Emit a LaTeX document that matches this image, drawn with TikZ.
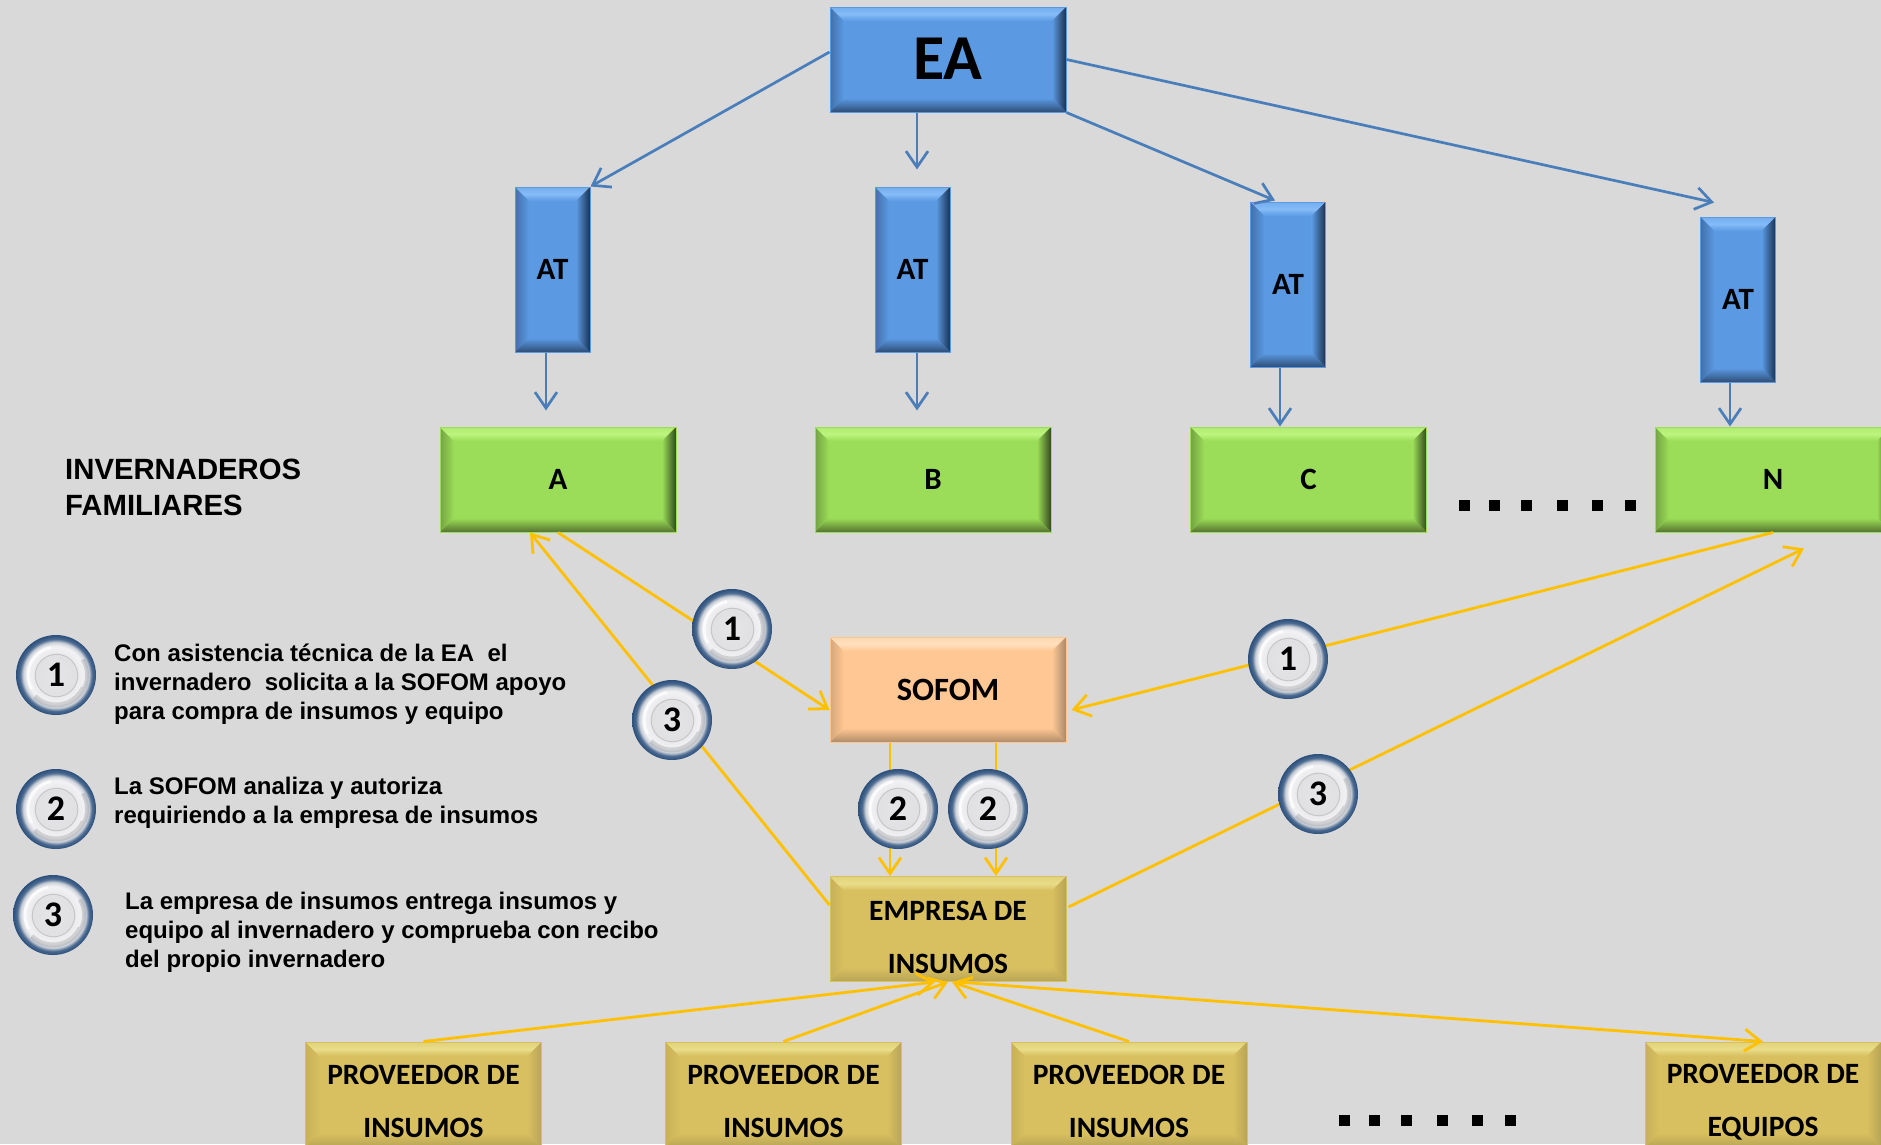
\documentclass[tikz,border=0pt]{standalone}
\usepackage{fontspec}
\setmainfont{Carlito}
\newfontfamily\legendfont{Liberation Sans}
\usetikzlibrary{arrows.meta}
\definecolor{pagebg}{HTML}{D9D9D9}
\definecolor{bluelink}{HTML}{4A7EBB}
\definecolor{yellink}{HTML}{FFC000}
\pgfdeclareradialshading{badgeshade}{\pgfpointorigin}{
 rgb(0bp)=(.90,.90,.91); rgb(12.75bp)=(.88,.88,.89); rgb(13.25bp)=(.76,.76,.77); rgb(13.75bp)=(.92,.92,.93);
 rgb(18bp)=(.95,.95,.96); rgb(20.5bp)=(.80,.82,.85); rgb(22.5bp)=(.30,.42,.57); rgb(25bp)=(.17,.31,.48); rgb(50bp)=(.17,.31,.48)}
\tikzset{
 bevelbox/.style n args={4}{draw=#1,line width=1pt,
  fill=#1,font=\bfseries,text=black,inner sep=0pt,align=center,
  path picture={
   \coordinate (sw) at (path picture bounding box.south west);
   \coordinate (ne) at (path picture bounding box.north east);
   \coordinate (nw) at (path picture bounding box.north west);
   \coordinate (se) at (path picture bounding box.south east);
   \shade[left color=#4!55!#1,right color=#1] (sw) -- (nw) -- ([xshift=14pt,yshift=-14pt]nw) -- ([xshift=14pt,yshift=14pt]sw) -- cycle;
   \shade[top color=#2!60!#1,bottom color=#1,middle color=#2] (nw) -- (ne) -- ([xshift=-14pt,yshift=-14pt]ne) -- ([xshift=14pt,yshift=-14pt]nw) -- cycle;
   \shade[left color=#1,right color=#3] (se) -- (ne) -- ([xshift=-14pt,yshift=-14pt]ne) -- ([xshift=-14pt,yshift=14pt]se) -- cycle;
   \shade[bottom color=#4,top color=#1] (sw) -- (se) -- ([xshift=-14pt,yshift=14pt]se) -- ([xshift=14pt,yshift=14pt]sw) -- cycle;
  }},
 widebox/.style={minimum width=236pt,minimum height=105pt},
 tallbox/.style={minimum width=75pt,minimum height=165pt},
 bluebox/.style={bevelbox={HBlue}{HBlueL}{HBlueD}{HBlueB}},
 greenbox/.style={bevelbox={HGreen}{HGreenL}{HGreenD}{HGreenB},widebox,font=\fontsize{31}{36}\selectfont\bfseries},
 orangebox/.style={bevelbox={HOrange}{HOrangeL}{HOrangeD}{HOrangeB},widebox,font=\fontsize{32.5}{36}\selectfont\bfseries},
 goldbox/.style={bevelbox={HGold}{HGoldL}{HGoldD}{HGoldB},widebox,font=\fontsize{29.5}{53}\selectfont\bfseries},
 bluelink/.style={draw=bluelink,line width=2.7pt,-{Straight Barb[length=16pt,width=22pt,line width=2.7pt]}},
 yellink/.style={draw=yellink,line width=2.8pt,-{Straight Barb[length=16pt,width=22pt,line width=2.8pt]}},
 badge/.style={circle,minimum size=80pt,inner sep=0pt,shade,shading=badgeshade,
  font=\fontsize{36}{36}\selectfont\bfseries,
  path picture={
   \draw[white,opacity=.75,line width=3pt] (path picture bounding box.center) ++(100:28pt) arc (100:210:28pt);
   \draw[black,opacity=.13,line width=5pt] (path picture bounding box.center) ++(225:30pt) arc (225:335:30pt);
   \draw[black,opacity=.12,line width=4pt] (path picture bounding box.center) ++(-25:31pt) arc (-25:30:31pt);}},
 legendtext/.style={anchor=north west,inner sep=0pt,align=left,font=\legendfont\fontsize{24}{29}\selectfont\bfseries},
 titletext/.style={anchor=north west,inner sep=0pt,align=left,font=\legendfont\fontsize{29.3}{35.5}\selectfont\bfseries},
 dotmark/.style={fill=black,draw=none},
}
\definecolor{HBlue}{HTML}{5B9AE3}\definecolor{HBlueL}{HTML}{85BBF7}\definecolor{HBlueD}{HTML}{1B324F}\definecolor{HBlueB}{HTML}{2E4E78}
\definecolor{HGreen}{HTML}{9BDD58}\definecolor{HGreenL}{HTML}{BDF47E}\definecolor{HGreenD}{HTML}{33481D}\definecolor{HGreenB}{HTML}{55742F}
\definecolor{HOrange}{HTML}{FFC793}\definecolor{HOrangeL}{HTML}{FFE0BE}\definecolor{HOrangeD}{HTML}{A98A6B}\definecolor{HOrangeB}{HTML}{B08C69}
\definecolor{HGold}{HTML}{D8BF5F}\definecolor{HGoldL}{HTML}{E9DD8A}\definecolor{HGoldD}{HTML}{B8A456}\definecolor{HGoldB}{HTML}{B8A456}
\begin{document}
\begin{tikzpicture}[x=1pt,y=-1pt]
\useasboundingbox (0,0) rectangle (1881,1144);
\clip (0,0) rectangle (1881,1144);
\fill[pagebg] (0,0) rectangle (1881,1144);

\node[bluebox,widebox,font=\fontsize{64}{64}\selectfont\bfseries] (ea) at (948,59.5) {\raisebox{2pt}{EA}};
\foreach \nm/\px/\py in {at1/552.5/269.5,at2/912.5/269.5,at3/1288/284.5,at4/1738/299.5}
 \node[bluebox,tallbox,font=\fontsize{31}{32}\selectfont\bfseries] (\nm) at (\px,\py) {AT};
\node[greenbox] (a) at (558,479.5) {A};
\node[greenbox] (b) at (933,479.5) {B};
\node[greenbox] (c) at (1308.5,479.5) {C};
\node[greenbox] (n) at (1773,479.5) {N};
\node[orangebox] (sofom) at (948,689.5) {SOFOM};
\node[goldbox] (empresa) at (948,929) {\rule{0pt}{36pt}EMPRESA DE\\INSUMOS};
\node[goldbox] (p1) at (423.5,1094.5) {\rule{0pt}{34pt}PROVEEDOR DE\\INSUMOS};
\node[goldbox] (p2) at (783.5,1094.5) {\rule{0pt}{34pt}PROVEEDOR DE\\INSUMOS};
\node[goldbox] (p3) at (1129,1094.5) {\rule{0pt}{34pt}PROVEEDOR DE\\INSUMOS};
\node[goldbox] (p4) at (1763,1094.5) {\rule{0pt}{34pt}PROVEEDOR DE\\EQUIPOS};

\draw[bluelink] ([yshift=7.5pt]ea.west) -- (at1.north east);
\draw[bluelink] ([xshift=-31pt]ea.south) -- ([xshift=4.5pt,yshift=17pt]at2.north);
\draw[bluelink] (ea.south east) -- ([xshift=-13pt,yshift=1pt]at3.north);
\draw[bluelink] (ea.east) -- ([xshift=-24pt,yshift=14pt]at4.north);
\draw[bluelink] ([xshift=-6.5pt]at1.south) -- ([xshift=-12pt,yshift=16pt]a.north);
\draw[bluelink] ([xshift=4.5pt]at2.south) -- ([xshift=-16pt,yshift=16pt]b.north);
\draw[bluelink] ([xshift=-8pt]at3.south) -- ([xshift=-28.5pt]c.north);
\draw[bluelink] ([xshift=-8pt]at4.south) -- ([xshift=-43pt]n.north);

\draw[yellink] (a.south) -- ([yshift=-20.5pt]sofom.west);
\draw[yellink] ([yshift=24pt]empresa.west) -- ([xshift=-28pt]a.south);
\draw[yellink] (n.south) -- ([xshift=5pt,yshift=-20.5pt]sofom.east);
\draw[yellink] ([xshift=2pt,yshift=22pt]empresa.east) -- ([xshift=31pt,yshift=-16pt]n.south);
\draw[yellink] ([xshift=-58pt]sofom.south) -- ([xshift=-58pt]empresa.north);
\draw[yellink] ([xshift=48pt]sofom.south) -- ([xshift=48pt]empresa.north);
\draw[yellink] (p1.north) -- ([xshift=-13pt]empresa.south);
\draw[yellink] (p2.north) -- (empresa.south);
\draw[yellink] (p3.north) -- ([xshift=4pt]empresa.south);
\draw[yellink] ([xshift=9pt]empresa.south) -- (p4.north);

\node[badge] (m1a) at (732,629) {1};
\node[badge] (m3a) at (672,720) {3};
\node[badge] (m1b) at (1288,659) {1};
\node[badge] (m3b) at (1318,794) {3};
\node[badge] (m2a) at (898,809) {2};
\node[badge] (m2b) at (988,809) {2};
\node[badge] (k1) at (56,675) {1};
\node[badge] (k2) at (56,809) {2};
\node[badge] (k3) at (53,915) {3};

\node[titletext] (title) at (65,459) {INVERNADEROS\\FAMILIARES};
\node[legendtext] (t1) at (114,644) {Con asistencia técnica de la EA\ \ el\\invernadero\ \ solicita a la SOFOM apoyo\\para compra de insumos y equipo};
\node[legendtext] (t2) at (114,777) {La SOFOM analiza y autoriza\\requiriendo a la empresa de insumos};
\node[legendtext] (t3) at (125,892) {La empresa de insumos entrega insumos y\\equipo al invernadero y comprueba con recibo\\del propio invernadero};

\foreach \dx in {1459,1489,1521,1557,1592,1625}
 \fill[dotmark] (\dx,500) rectangle +(11,11);
\foreach \dx in {1339,1369,1401,1437,1472,1505}
 \fill[dotmark] (\dx,1115) rectangle +(11,11);
\end{tikzpicture}
\end{document}
